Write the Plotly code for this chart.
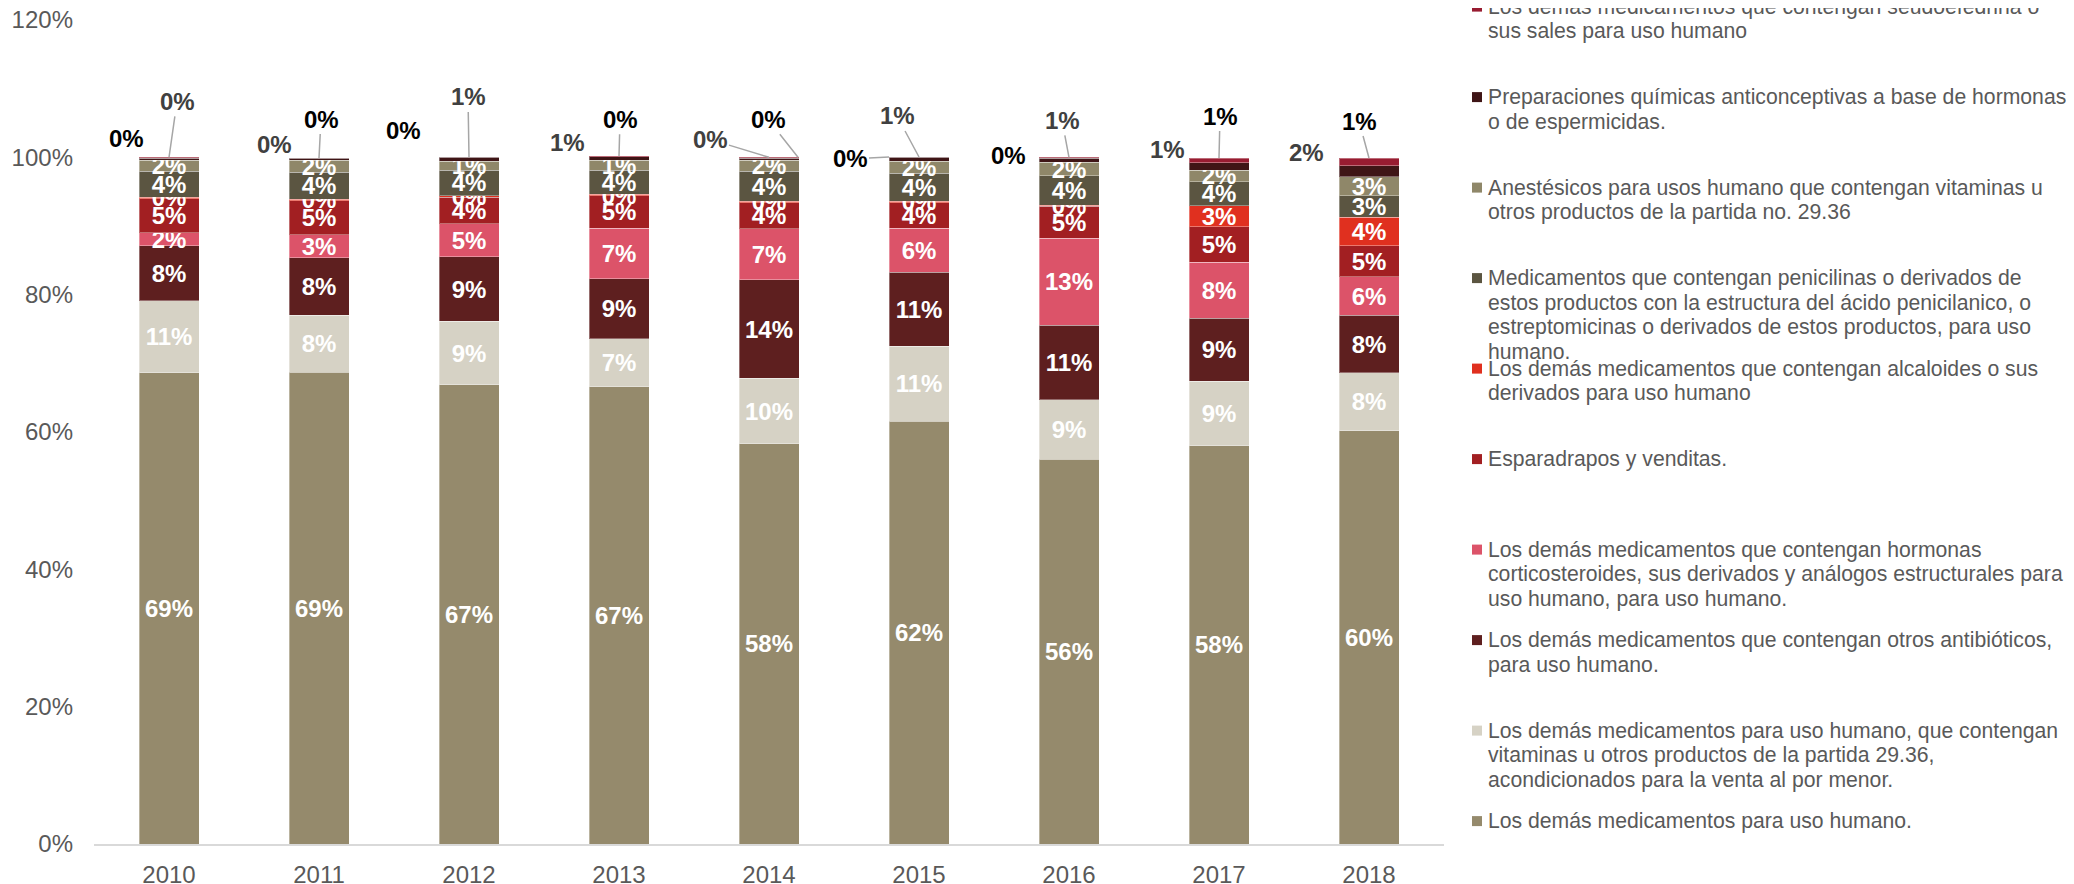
import plotly.graph_objects as go

years = ["2010", "2011", "2012", "2013", "2014", "2015", "2016", "2017", "2018"]

# shares (%) per product group, bottom of the stack first
demas = [68.6, 68.7, 66.9, 66.6, 58.3, 61.6, 56.0, 58.0, 60.2]
vitaminas_menor = [10.55, 8.3, 9.2, 7.0, 9.5, 10.9, 8.7, 9.4, 8.4]
antibioticos = [7.95, 8.4, 9.4, 8.7, 14.4, 10.8, 10.85, 9.2, 8.4]
hormonas = [1.9, 3.3, 4.8, 7.4, 7.4, 6.4, 12.65, 8.1, 5.6]
esparadrapos = [5.0, 5.0, 3.9, 4.7, 3.8, 3.7, 4.65, 5.2, 4.5]
alcaloides = [0.2, 0.2, 0.2, 0.2, 0.2, 0.2, 0.2, 3.05, 4.15]
penicilinas = [3.8, 3.9, 3.75, 3.5, 4.4, 4.1, 4.25, 3.5, 3.15]
anestesicos = [1.6, 1.75, 1.3, 1.46, 1.56, 1.76, 2.0, 1.7, 2.8]
anticonceptivas = [0.3, 0.3, 0.55, 0.55, 0.3, 0.55, 0.6, 1.05, 1.6]
seudoefedrina = [0.1, 0.05, 0.05, 0.04, 0.14, 0.04, 0.1, 0.7, 1.1]

series = [
    ("Los demás medicamentos para uso humano.", demas, "#958A6C"),
    ("Los demás medicamentos para uso humano, que contengan<br>vitaminas u otros productos de la partida 29.36,<br>acondicionados para la venta al por menor.", vitaminas_menor, "#D6D2C5"),
    ("Los demás medicamentos que contengan otros antibióticos,<br>para uso humano.", antibioticos, "#5E1F1F"),
    ("Los demás medicamentos que contengan hormonas<br>corticosteroides, sus derivados y análogos estructurales para<br>uso humano, para uso humano.", hormonas, "#DC5369"),
    ("Esparadrapos y venditas.", esparadrapos, "#A21F22"),
    ("Los demás medicamentos que contengan alcaloides o sus<br>derivados para uso humano", alcaloides, "#E0301F"),
    ("Medicamentos que contengan penicilinas o derivados de<br>estos productos con la estructura del ácido penicilanico, o<br>estreptomicinas o derivados de estos productos, para uso<br>humano.", penicilinas, "#5B5541"),
    ("Anestésicos para usos humano que contengan vitaminas u<br>otros productos de la partida no. 29.36", anestesicos, "#8F8769"),
    ("Preparaciones químicas anticonceptivas a base de hormonas<br>o de espermicidas.", anticonceptivas, "#3F1516"),
    ("Los demás medicamentos que contengan seudoefedrina o<br>sus sales para uso humano", seudoefedrina, "#981C31"),
]
outside = {"Preparaciones", "Los demás medicamentos que contengan seudoefedrina"}

FONT = "Liberation Sans, Arial, sans-serif"
OFF = 8  # page body margin
W, H = 2074, 884
L, R, T, B = 94 - OFF, 1444 - OFF, 20 - OFF, 844 - OFF


def px_x(p):
    return (p - OFF - L) / (R - L)


def px_y(p):
    return (B - (p - OFF)) / (B - T)


fig = go.Figure()
for name, vals, color in series:
    labelled = not any(name.startswith(s) for s in outside)
    fig.add_trace(
        go.Bar(
            x=years,
            y=vals,
            name=name.replace("<br>", " "),
            marker={"color": color, "line": {"color": "rgba(255,255,255,0.35)", "width": 1}},
            texttemplate="%{y:.0f}%" if labelled else None,
            textposition="inside" if labelled else "none",
            insidetextanchor="middle",
            textangle=0,
            textfont={"family": FONT, "size": 24, "color": "white", "weight": "bold"},
            showlegend=False,
        )
    )

totals = [sum(s[1][i] for s in series) for i in range(len(years))]

# outside labels: (ax, ay, xshift, leader line)
anti_pos = [(8, -56, 0, True), (-45, -14, 0, False), (-1, -60, 0, True), (-52, -14, 0, False),
            (-59, -18, 0, True), (-22, -41, 0, True), (-7, -37, 0, True), (-52, -9, 0, False),
            (-63, -6, 0, False)]
seudo_pos = [(-43, -19, 0, False), (2, -39, 0, True), (-66, -26, 0, False), (1, -37, 0, True),
             (-30, -38, 29, True), (-39, 2, -30, True), (-61, -2, 0, False), (1, -42, 0, True),
             (-10, -37, 0, True)]

for vals, pos, color in [(anticonceptivas, anti_pos, "#404040"), (seudoefedrina, seudo_pos, "#000000")]:
    for i in range(len(years)):
        ax, ay, xs, line = pos[i]
        fig.add_annotation(
            x=i, y=totals[i], xref="x", yref="y",
            text=f"{vals[i]:.0f}%",
            showarrow=True, arrowhead=0, arrowwidth=1.5,
            arrowcolor="#A6A6A6" if line else "rgba(0,0,0,0)",
            ax=ax, ay=ay, xshift=xs, standoff=0,
            font={"family": FONT, "size": 24, "color": color, "weight": "bold"},
        )

# legend drawn by hand to keep the spreadsheet spacing
for k, (name, vals, color) in enumerate(reversed(series)):
    y0 = 6.6 + k * 90.5
    fig.add_shape(
        type="rect", xref="paper", yref="paper",
        x0=px_x(1472), x1=px_x(1482), y0=px_y(y0 - 5), y1=px_y(y0 + 5),
        fillcolor=color, line={"width": 0},
    )
    for j, line in enumerate(name.split("<br>")):
        fig.add_annotation(
            x=px_x(1486), y=px_y(y0 + j * 24.5), xref="paper", yref="paper",
            xanchor="left", yanchor="middle", showarrow=False, text=line,
            font={"family": FONT, "size": 21.2, "color": "#595959"},
        )

fig.update_layout(
    width=W, height=H,
    margin={"l": L, "r": W - R, "t": T, "b": H - B},
    barmode="stack", bargap=0.6,
    plot_bgcolor="white", paper_bgcolor="white",
    uniformtext={"minsize": 24, "mode": "show"},
    font={"family": FONT, "size": 24, "color": "#595959"},
)
fig.update_xaxes(
    type="category", range=[-0.5, len(years) - 0.5], automargin=False,
    showline=True, linecolor="#D9D9D9", linewidth=1.5, showgrid=False,
    ticks="", ticklabelstandoff=8, tickfont={"size": 24, "color": "#595959"},
)
fig.update_yaxes(
    range=[0, 120], dtick=20, ticksuffix="%", showgrid=False, zeroline=False,
    automargin=False, ticklabeloverflow="allow",
    ticks="", ticklabelstandoff=20, tickfont={"size": 24, "color": "#595959"},
)

fig.write_html("out.html")
